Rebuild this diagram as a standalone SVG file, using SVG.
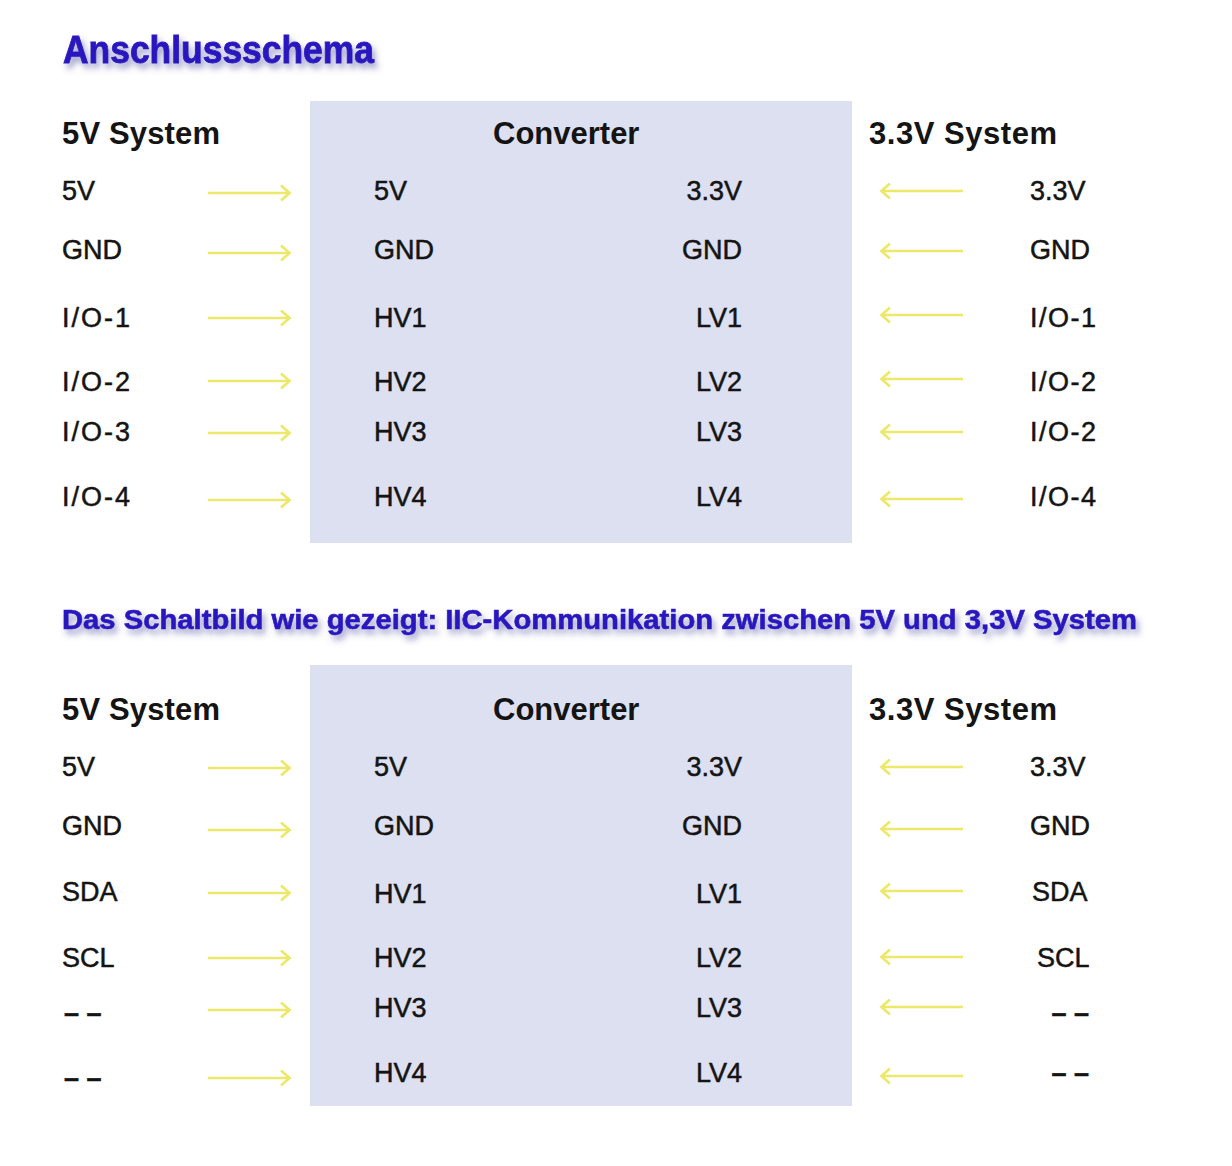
<svg xmlns="http://www.w3.org/2000/svg" width="1232" height="1166" viewBox="0 0 1232 1166">
<defs>
<style>
.t{font-family:"Liberation Sans",Arial,sans-serif;fill:#141414;}
.h{font-size:31px;font-weight:bold;}
.l{font-size:27px;stroke:#141414;stroke-width:0.5;}
.e{text-anchor:end;}
.ttl{font-family:"Liberation Sans",Arial,sans-serif;font-weight:bold;fill:#2a18bf;stroke:#2a18bf;stroke-width:0.9;}
.box{fill:#dce0f1;}
.ar{stroke:#ebe86a;stroke-width:2.6;fill:none;marker-end:url(#ah);}
</style>
<marker id="ah" viewBox="0 0 11 18" refX="10" refY="9" markerWidth="11" markerHeight="18" markerUnits="userSpaceOnUse" orient="auto">
<path d="M1,1.5 L9.5,9 L1,16.5" fill="none" stroke="#ebe86a" stroke-width="2.6"/>
</marker>
<filter id="sh" x="-10%" y="-50%" width="120%" height="200%">
<feDropShadow dx="3" dy="5" stdDeviation="3" flood-color="#5050a0" flood-opacity="0.55"/>
</filter>
</defs>
<rect width="1232" height="1166" fill="#ffffff"/>

<g id="title1"><text class="ttl" x="63" y="63" font-size="38" textLength="311" lengthAdjust="spacingAndGlyphs" filter="url(#sh)">Anschlussschema</text></g>
<g id="title2"><text class="ttl" x="62" y="629" font-size="27" textLength="1075" lengthAdjust="spacingAndGlyphs" filter="url(#sh)" style="stroke-width:0.6">Das Schaltbild wie gezeigt: IIC-Kommunikation zwischen 5V und 3,3V System</text></g>

<g id="converter1">
<rect class="box" x="310" y="101" width="542" height="442"/>
<text class="t h" x="493" y="144">Converter</text>
<text class="t l" x="374" y="200">5V</text>
<text class="t l" x="374" y="259">GND</text>
<text class="t l" x="374" y="327">HV1</text>
<text class="t l" x="374" y="391">HV2</text>
<text class="t l" x="374" y="441">HV3</text>
<text class="t l" x="374" y="506">HV4</text>
<text class="t l e" x="742" y="200">3.3V</text>
<text class="t l e" x="742" y="259">GND</text>
<text class="t l e" x="742" y="327">LV1</text>
<text class="t l e" x="742" y="391">LV2</text>
<text class="t l e" x="742" y="441">LV3</text>
<text class="t l e" x="742" y="506">LV4</text>
</g>
<g id="system5v1">
<text class="t h" x="62" y="144" textLength="158">5V System</text>
<text class="t l" x="62" y="200">5V</text>
<text class="t l" x="62" y="259">GND</text>
<text class="t l" x="62" y="327" textLength="68">I/O-1</text>
<text class="t l" x="62" y="391" textLength="68">I/O-2</text>
<text class="t l" x="62" y="441" textLength="68">I/O-3</text>
<text class="t l" x="62" y="506" textLength="68">I/O-4</text>
</g>
<g id="system33v1">
<text class="t h" x="869" y="144" textLength="188">3.3V System</text>
<text class="t l" x="1030" y="200">3.3V</text>
<text class="t l" x="1030" y="259">GND</text>
<text class="t l" x="1030" y="327" textLength="66">I/O-1</text>
<text class="t l" x="1030" y="391" textLength="66">I/O-2</text>
<text class="t l" x="1030" y="441" textLength="66">I/O-2</text>
<text class="t l" x="1030" y="506" textLength="66">I/O-4</text>
</g>

<g id="converter2">
<rect class="box" x="310" y="665" width="542" height="441"/>
<text class="t h" x="493" y="720">Converter</text>
<text class="t l" x="374" y="776">5V</text>
<text class="t l" x="374" y="835">GND</text>
<text class="t l" x="374" y="903">HV1</text>
<text class="t l" x="374" y="967">HV2</text>
<text class="t l" x="374" y="1017">HV3</text>
<text class="t l" x="374" y="1082">HV4</text>
<text class="t l e" x="742" y="776">3.3V</text>
<text class="t l e" x="742" y="835">GND</text>
<text class="t l e" x="742" y="903">LV1</text>
<text class="t l e" x="742" y="967">LV2</text>
<text class="t l e" x="742" y="1017">LV3</text>
<text class="t l e" x="742" y="1082">LV4</text>
</g>
<g id="system5v2">
<text class="t h" x="62" y="720" textLength="158">5V System</text>
<text class="t l" x="62" y="776">5V</text>
<text class="t l" x="62" y="835">GND</text>
<text class="t l" x="62" y="901">SDA</text>
<text class="t l" x="62" y="967">SCL</text>
<text class="t l" x="64" y="1022" font-weight="bold">– –</text>
<text class="t l" x="64" y="1087" font-weight="bold">– –</text>
</g>
<g id="system33v2">
<text class="t h" x="869" y="720" textLength="188">3.3V System</text>
<text class="t l" x="1030" y="776">3.3V</text>
<text class="t l" x="1030" y="835">GND</text>
<text class="t l" x="1032" y="901">SDA</text>
<text class="t l" x="1037" y="967">SCL</text>
<text class="t l e" x="1089" y="1022" font-weight="bold">– –</text>
<text class="t l e" x="1089" y="1082" font-weight="bold">– –</text>
</g>

<g id="connectors">
<line class="ar" x1="208" y1="193" x2="290" y2="193"/>
<line class="ar" x1="208" y1="253" x2="290" y2="253"/>
<line class="ar" x1="208" y1="318" x2="290" y2="318"/>
<line class="ar" x1="208" y1="381" x2="290" y2="381"/>
<line class="ar" x1="208" y1="433" x2="290" y2="433"/>
<line class="ar" x1="208" y1="500" x2="290" y2="500"/>
<line class="ar" x1="963" y1="191" x2="881" y2="191"/>
<line class="ar" x1="963" y1="251" x2="881" y2="251"/>
<line class="ar" x1="963" y1="315" x2="881" y2="315"/>
<line class="ar" x1="963" y1="379" x2="881" y2="379"/>
<line class="ar" x1="963" y1="432" x2="881" y2="432"/>
<line class="ar" x1="963" y1="499" x2="881" y2="499"/>
<line class="ar" x1="208" y1="768" x2="290" y2="768"/>
<line class="ar" x1="208" y1="830" x2="290" y2="830"/>
<line class="ar" x1="208" y1="893" x2="290" y2="893"/>
<line class="ar" x1="208" y1="958" x2="290" y2="958"/>
<line class="ar" x1="208" y1="1010" x2="290" y2="1010"/>
<line class="ar" x1="208" y1="1078" x2="290" y2="1078"/>
<line class="ar" x1="963" y1="767" x2="881" y2="767"/>
<line class="ar" x1="963" y1="829" x2="881" y2="829"/>
<line class="ar" x1="963" y1="891" x2="881" y2="891"/>
<line class="ar" x1="963" y1="957" x2="881" y2="957"/>
<line class="ar" x1="963" y1="1007" x2="881" y2="1007"/>
<line class="ar" x1="963" y1="1076" x2="881" y2="1076"/>
</g>
</svg>
